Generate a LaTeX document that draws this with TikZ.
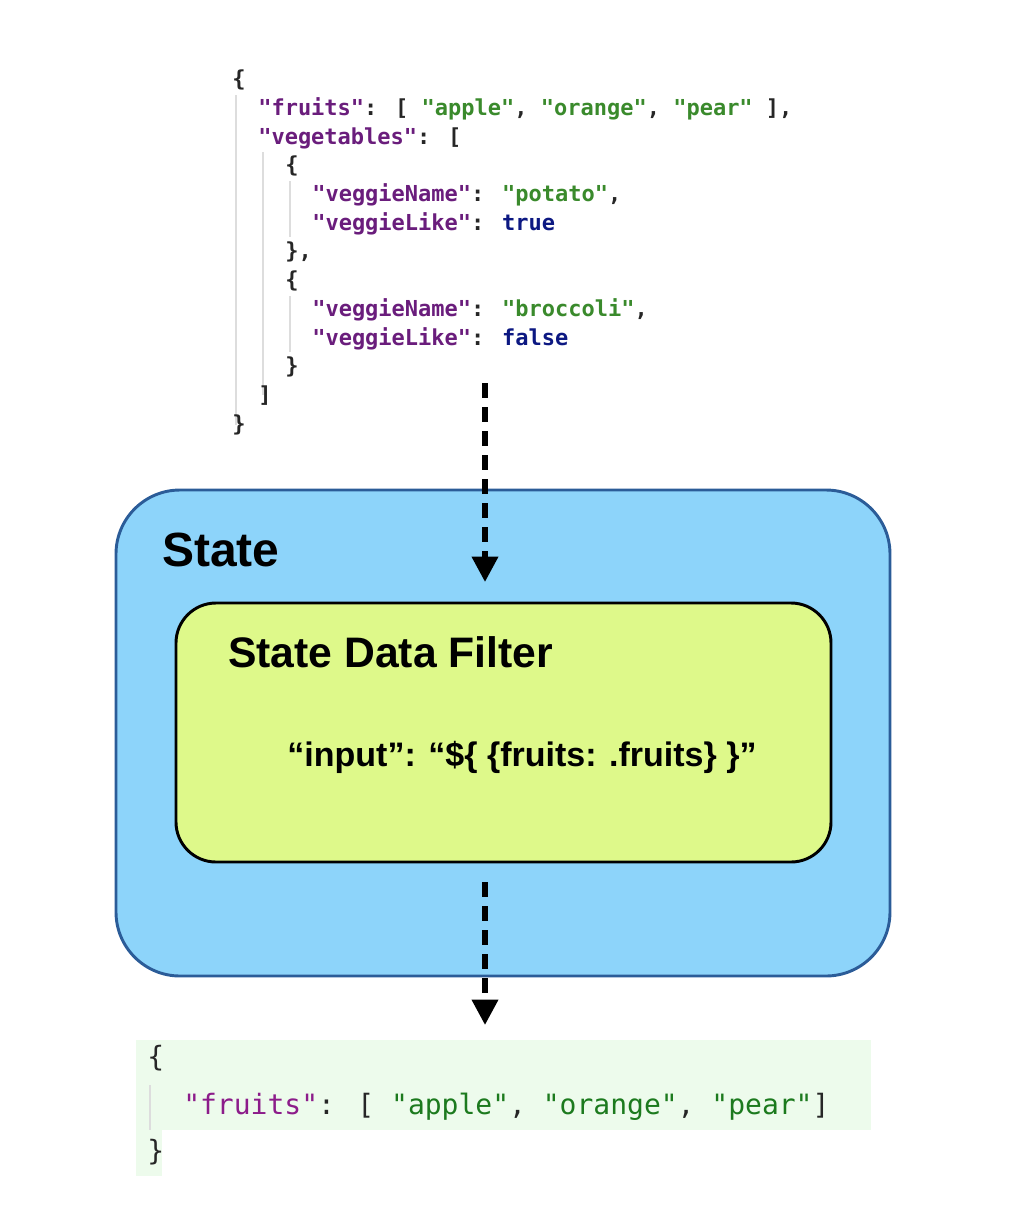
\documentclass[tikz,border=0pt]{standalone}
\usepackage{fontspec}
\setmainfont{Liberation Sans}
\newfontfamily\codefont{DejaVu Sans Mono}
\usepackage{tikz}
\usetikzlibrary{arrows.meta,positioning,fit}

\definecolor{keyc}{HTML}{6A1D7C}
\definecolor{strc}{HTML}{3A8A2C}
\definecolor{litc}{HTML}{0C1882}
\definecolor{okeyc}{HTML}{8C1C8A}
\definecolor{ostrc}{HTML}{1C7A1E}
\definecolor{outbg}{HTML}{EDFBEC}
\definecolor{statefill}{HTML}{8DD4FA}
\definecolor{stateline}{HTML}{2B5C98}
\definecolor{filterfill}{HTML}{DEF98A}
\definecolor{guide}{HTML}{DDDDDD}

\newcommand{\jkey}[1]{\textcolor{keyc}{#1}}
\newcommand{\jstr}[1]{\textcolor{strc}{#1}}
\newcommand{\jlit}[1]{\textcolor{litc}{#1}}
\newcommand{\okey}[1]{\textcolor{okeyc}{#1}}
\newcommand{\ostr}[1]{\textcolor{ostrc}{#1}}

\tikzset{
  codeline/.style={anchor=west, inner sep=0pt, text=black!85,
    font=\codefont\bfseries\fontsize{16.5}{20}\selectfont},
  outline/.style={anchor=west, inner sep=0pt, text=black!85,
    font=\codefont\fontsize{21}{25}\selectfont},
  guideline/.style={draw=guide, line width=0.8pt},
  statebox/.style={draw=stateline, fill=statefill, line width=2.2pt,
    rounded corners=48pt, inner sep=0pt},
  filterbox/.style={draw=black, fill=filterfill, line width=2.2pt,
    rounded corners=30pt, inner sep=0pt},
  boxtitle/.style={anchor=base west, inner sep=0pt, font=\bfseries\fontsize{36}{40}\selectfont},
  flow/.style={line width=4.2pt, dash pattern=on 11pt off 7pt,
    -{Triangle[width=19pt,length=19pt]}}
}

\begin{document}
\begin{tikzpicture}[x=0.75pt,y=-0.75pt]
\useasboundingbox (0,0) rectangle (1014,1208);

% input json
\draw[guideline] (236,95) -- (236,425);
\draw[guideline] (263,152) -- (263,395);
\draw[guideline] (290,181) -- (290,237);
\draw[guideline] (290,296) -- (290,352);
\node[codeline] (in1) at (232,80) {\{};
\node[codeline] (in2) at (258,109) {\jkey{"fruits"}: [ \jstr{"apple"}, \jstr{"orange"}, \jstr{"pear"} ],};
\node[codeline] (in3) at (258,138) {\jkey{"vegetables"}: [};
\node[codeline] (in4) at (285,166) {\{};
\node[codeline] (in5) at (312,195) {\jkey{"veggieName"}: \jstr{"potato"},};
\node[codeline] (in6) at (312,224) {\jkey{"veggieLike"}: \jlit{true}};
\node[codeline] (in7) at (285,252) {\},};
\node[codeline] (in8) at (285,281) {\{};
\node[codeline] (in9) at (312,310) {\jkey{"veggieName"}: \jstr{"broccoli"},};
\node[codeline] (in10) at (312,339) {\jkey{"veggieLike"}: \jlit{false}};
\node[codeline] (in11) at (285,367) {\}};
\node[codeline] (in12) at (258,396) {]};
\node[codeline] (in13) at (232,425) {\}};

% state and its filter
\node[statebox, fit={(116,490) (890,976)}] (state) {};
\node[boxtitle] (stateLbl) at (162,566) {State};
\node[filterbox, fit={(176,603) (831,862)}] (filter) {};
\node[boxtitle, font=\bfseries\fontsize{32}{38}\selectfont] (filterLbl) at (228,667) {State Data Filter};
\node[inner sep=0pt, font=\bfseries\fontsize{25.5}{30}\selectfont] (filterExpr) at (522,757)
  {“input”: “\$\{ \{fruits: .fruits\} \}”};

% output json
\fill[outbg] (136,1040) rectangle (871,1130);
\fill[outbg] (136,1130) rectangle (162,1176);
\draw[guideline] (150,1085) -- (150,1130);
\node[outline] (out1) at (147,1058) {\{};
\node[outline] (out2) at (183,1107) {\okey{"fruits"}: [ \ostr{"apple"}, \ostr{"orange"}, \ostr{"pear"}]};
\node[outline] (out3) at (147,1152) {\}};

% data flow
\coordinate (inSrc) at (485,383);
\coordinate (inTip) at (485,582);
\coordinate (outSrc) at (485,882);
\coordinate (outTip) at (485,1025);
\draw[flow] (inSrc) -- (inTip);
\draw[flow] (outSrc) -- (outTip);
\end{tikzpicture}
\end{document}
